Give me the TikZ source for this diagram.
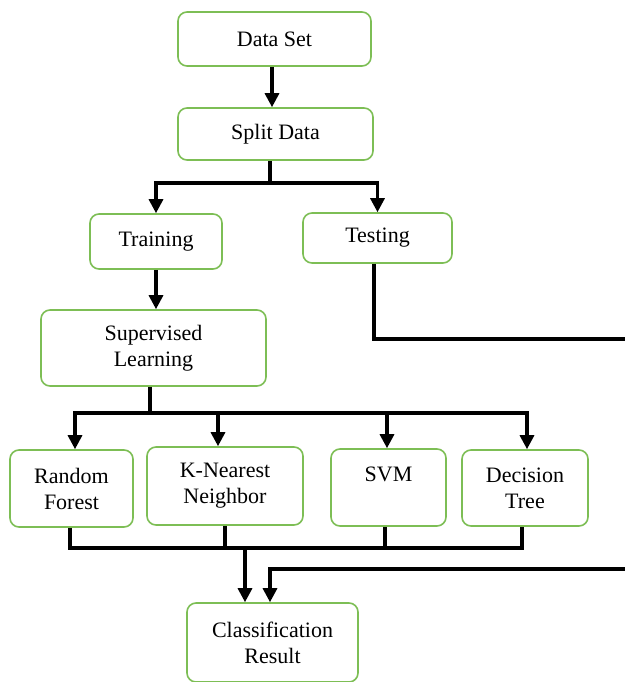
\documentclass[tikz,border=0pt]{standalone}
\usepackage{fontspec}
\setmainfont{Liberation Serif}
\usetikzlibrary{arrows.meta,calc}
\definecolor{boxgreen}{RGB}{125,190,85}
\tikzset{
  box/.style={draw=boxgreen, line width=1.6pt, rounded corners=9pt, align=center,
    inner sep=0pt, font=\fontsize{22}{26}\selectfont},
  conn/.style={draw=black, line width=3.2pt},
  arr/.style={conn, -{Triangle[width=14pt,length=14pt]}},
}
\begin{document}
\begin{tikzpicture}[x=1pt,y=-1pt]
\useasboundingbox (0,0) rectangle (624,682);
\node[box, minimum width=193pt, minimum height=54pt] (ds) at (274.5,39) {Data Set};
\node[box, minimum width=195pt, minimum height=52pt] (split) at (275.5,134) {Split Data};
\node[box, minimum width=132pt, minimum height=55pt] (train) at (156,241.5) {Training};
\node[box, minimum width=149pt, minimum height=50pt] (test) at (377.5,238) {Testing};
\node[box, minimum width=225pt, minimum height=76pt] (sup) at (153.5,348) {Supervised\\Learning};
\node[box, minimum width=123pt, minimum height=77pt] (rf) at (71.5,488.5) {Random\\Forest};
\node[box, minimum width=156pt, minimum height=78pt] (knn) at (225,486) {K-Nearest\\Neighbor};
\node[box, minimum width=115pt, minimum height=77pt] (svm) at (388.5,487.5) {SVM\\~};
\node[box, minimum width=126pt, minimum height=76pt] (dt) at (525,488) {Decision\\Tree};
\node[box, minimum width=171pt, minimum height=79pt] (cr) at (272.5,642.5) {Classification\\Result};

\coordinate (bus1) at (0,183);
\coordinate (bus2) at (0,413);
\coordinate (bus3) at (0,548);
\coordinate (edgeA) at (626,339);
\coordinate (edgeB) at (626,569);

% Data Set -> Split Data
\draw[arr] ([xshift=-2.5pt]ds.south) -- ([xshift=-2.5pt]ds.south |- split.north);
% Split Data -> Training / Testing
\draw[conn] ([xshift=-5.5pt]split.south) -- ([xshift=-5.5pt]split.south |- bus1);
\draw[conn] ([xshift=-1.6pt]train.north |- bus1) -- ([xshift=1.6pt]test.north |- bus1);
\draw[arr] (train.north |- bus1) -- (train.north);
\draw[arr] (test.north |- bus1) -- (test.north);
% Training -> Supervised
\draw[arr] (train.south) -- (train.south |- sup.north);
% Supervised -> classifiers
\draw[conn] ([xshift=-3.5pt]sup.south) -- ([xshift=-3.5pt]sup.south |- bus2);
\draw[conn] ([xshift=1.9pt]rf.north |- bus2) -- ([xshift=3.6pt]dt.north |- bus2);
\draw[arr] ([xshift=3.5pt]rf.north |- bus2) -- ([xshift=3.5pt]rf.north);
\draw[arr] ([xshift=-7pt]knn.north |- bus2) -- ([xshift=-7pt]knn.north);
\draw[arr] ([xshift=-1.5pt]svm.north |- bus2) -- ([xshift=-1.5pt]svm.north);
\draw[arr] ([xshift=2pt]dt.north |- bus2) -- ([xshift=2pt]dt.north);
% Testing -> right edge
\draw[conn] ([xshift=-3.5pt]test.south) |- (edgeA);
% classifiers -> bus
\draw[conn] ([xshift=-1.5pt]rf.south) -- ([xshift=-1.5pt]rf.south |- bus3) -- ([xshift=-3pt]dt.south |- bus3) -- ([xshift=-3pt]dt.south);
\draw[conn] (knn.south) -- (knn.south |- bus3);
\draw[conn] ([xshift=-3.5pt]svm.south) -- ([xshift=-3.5pt]svm.south |- bus3);
% bus -> Classification Result
\draw[arr] ([xshift=-27.5pt]cr.north |- bus3) -- ([xshift=-27.5pt]cr.north);
\draw[arr] (edgeB) -| ([xshift=-2.5pt]cr.north);
\end{tikzpicture}
\end{document}
